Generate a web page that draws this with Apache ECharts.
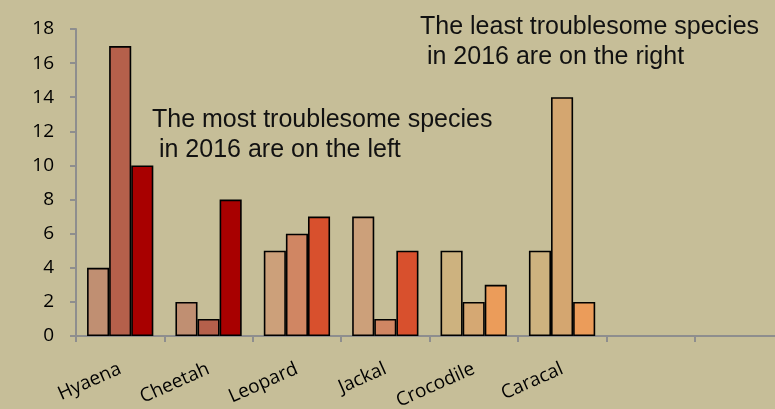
<!DOCTYPE html>
<html><head><meta charset="utf-8">
<script src="https://cdn.jsdelivr.net/npm/echarts@6/dist/echarts.min.js"></script>
<style>html,body{margin:0;padding:0;background:#C6BE98;}#c{width:775px;height:409px;}</style>
</head><body><div id="c"></div>
<script>
const categories = ['Hyaena','Cheetah','Leopard','Jackal','Crocodile','Caracal','',''];
const seriesA = [4, 2, 5, 7, 5, 5, null, null];
const seriesB = [17, 1, 6, 1, 2, 14, null, null];
const seriesC = [10, 8, 7, 5, 3, 2, null, null];
const yTicks = {min: 0, max: 18, interval: 2};

const colorsA = ['#C08F72','#C08F72','#CCA07A','#CCA07A','#CDB27F','#CDB27F','#000','#000'];
const colorsB = ['#B5604B','#B5604B','#D08663','#D08663','#D5A873','#D4A670','#000','#000'];
const colorsC = ['#A80000','#A80000','#D8502D','#D8502D','#EB9C5A','#EB9C5A','#000','#000'];

function mk(vals, cols){
  return vals.map((v,i)=>({value:v, itemStyle:{color:cols[i]}}));
}
const chart = echarts.init(document.getElementById('c'), null, {renderer:'canvas'});
const bs = {borderColor:'#000', borderWidth:1.6};
chart.setOption({
  backgroundColor:'#C6BE98',
  animation:false,
  grid:{left:76, top:29, bottom:73, right:-8, containLabel:false, outerBoundsMode:'none'},
  xAxis:{type:'category', data:categories,
    axisLine:{lineStyle:{color:'#8E8E8E', width:2}},
    axisTick:{show:true, length:6, lineStyle:{color:'#8E8E8E', width:2}},
    axisLabel:{rotate:24, margin:32, fontFamily:'Open Sans', fontSize:19, color:'#000', interval:0}},
  yAxis:{type:'value', min:yTicks.min, max:yTicks.max, interval:yTicks.interval,
    splitLine:{show:false},
    axisLine:{show:true, lineStyle:{color:'#8E8E8E', width:2}},
    axisTick:{show:true, length:6, lineStyle:{color:'#8E8E8E', width:2}},
    axisLabel:{fontFamily:'Open Sans', fontSize:19, color:'#000', margin:22}},
  series:[
    {type:'bar', data:mk(seriesA,colorsA), barGap:'0%', barCategoryGap:'25%', itemStyle:bs},
    {type:'bar', data:mk(seriesB,colorsB), barGap:'0%', barCategoryGap:'25%', itemStyle:bs},
    {type:'bar', data:mk(seriesC,colorsC), barGap:'0%', barCategoryGap:'25%', itemStyle:bs}
  ],
  graphic:[
    {type:'text', left:152, top:105, style:{text:'The most troublesome species\n in 2016 are on the left', font:'25px "Liberation Sans"', fill:'#111', lineHeight:30}},
    {type:'text', left:420, top:12, style:{text:'The least troublesome species\n in 2016 are on the right', font:'25px "Liberation Sans"', fill:'#111', lineHeight:30}}
  ]
});
</script></body></html>
